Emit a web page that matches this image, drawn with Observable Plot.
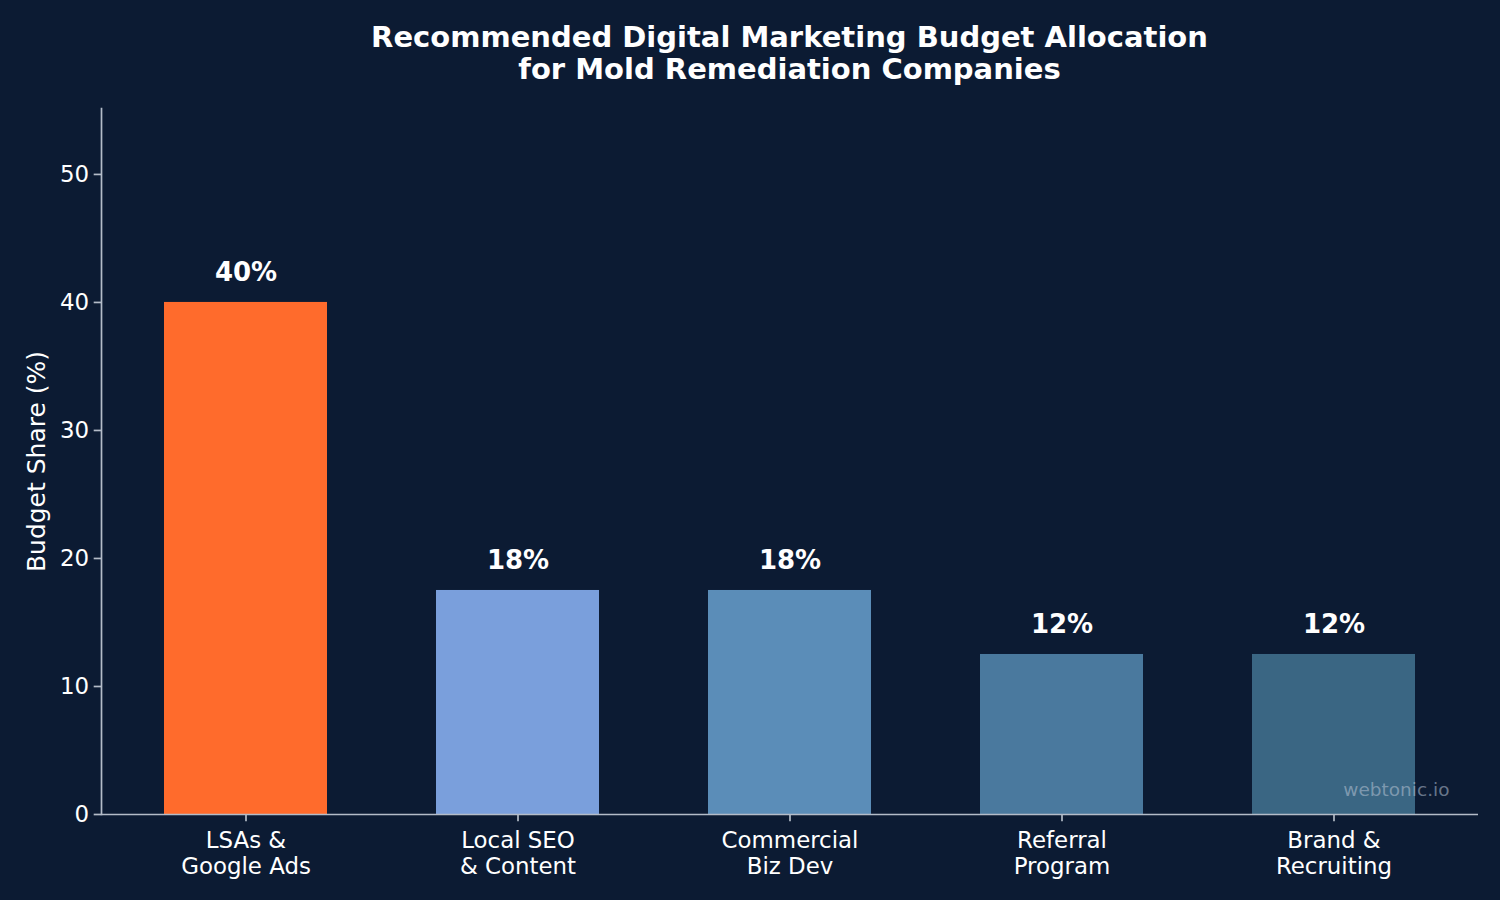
<!DOCTYPE html>
<html>
<head>
<meta charset="utf-8">
<script src="https://cdn.jsdelivr.net/npm/d3@7"></script>
<script src="https://cdn.jsdelivr.net/npm/@observablehq/plot@0.6"></script>
<style>
  html, body { margin: 0; padding: 0; background: #0c1b33; }
  #wrap { width: 1500px; height: 900px; background: #0c1b33; font-family: "DejaVu Sans", sans-serif; }
  #title { margin-left: 79px; width: 1421px; height: 100px; box-sizing: border-box; padding-top: 21px;
           text-align: center; color: #ffffff; font-weight: bold; font-size: 29px; line-height: 32px; }
  #chart svg { display: block; }
</style>
</head>
<body>
<div id="wrap">
  <div id="title">Recommended Digital Marketing Budget Allocation<br>for Mold Remediation Companies</div>
  <div id="chart"></div>
</div>
<script>
const categories = ["LSAs &\nGoogle Ads", "Local SEO\n& Content", "Commercial\nBiz Dev", "Referral\nProgram", "Brand &\nRecruiting"];
const shares = [40, 17.5, 17.5, 12.5, 12.5];
const valueLabels = ["40%", "18%", "18%", "12%", "12%"];
const barColors = ["#ff6b2c", "#7a9fdc", "#5b8db8", "#4a799e", "#3a6683"];
const yTicks = [0, 10, 20, 30, 40, 50];
const yLabel = "Budget Share (%)";
const watermark = "webtonic.io";

const data = categories.map((c, i) => ({cat: c, value: shares[i], label: valueLabels[i], color: barColors[i]}));
const axisColor = "#b4bcc8";

const plot = Plot.plot({
  width: 1500,
  height: 800,
  marginLeft: 101,
  marginRight: 22,
  marginTop: 8,
  marginBottom: 86,
  style: {background: "#0c1b33", fontFamily: "DejaVu Sans, sans-serif", color: "#ffffff"},
  x: {domain: categories, paddingInner: 0.4, paddingOuter: 0.23, label: null},
  y: {domain: [0, 55.15], label: null},
  marks: [
    Plot.barY(data, {x: "cat", y: "value", fill: "color"}),
    Plot.ruleY([0], {stroke: axisColor, strokeWidth: 1.7}),
    Plot.frame({anchor: "left", stroke: axisColor, strokeWidth: 1.7}),
    Plot.axisY({ticks: yTicks, tickSize: 7.3, tickPadding: 5, stroke: axisColor, strokeWidth: 1.7, fontSize: 22.9, fill: "#ffffff", label: null, strokeOpacity: 1}),
    Plot.axisX({tickSize: 7.3, tickPadding: 8, stroke: axisColor, strokeWidth: 1.7, fontSize: 22.9, fill: "#ffffff", lineHeight: 1.14, label: null, strokeOpacity: 1}),
    Plot.text(data, {x: "cat", y: "value", text: "label", dy: -30, lineAnchor: "middle", fontSize: 26, fontWeight: "bold", fill: "#ffffff"}),
    Plot.text([yLabel], {frameAnchor: "left", dx: -65, rotate: -90, fontSize: 25, fill: "#ffffff", textAnchor: "middle", lineAnchor: "middle"}),
    Plot.text([watermark], {frameAnchor: "bottom-right", dx: -29, dy: -19, textAnchor: "end", lineAnchor: "bottom", fontSize: 18.5, fill: "#b8c4d4", fillOpacity: 0.55})
  ]
});
document.getElementById("chart").appendChild(plot);
</script>
</body>
</html>
